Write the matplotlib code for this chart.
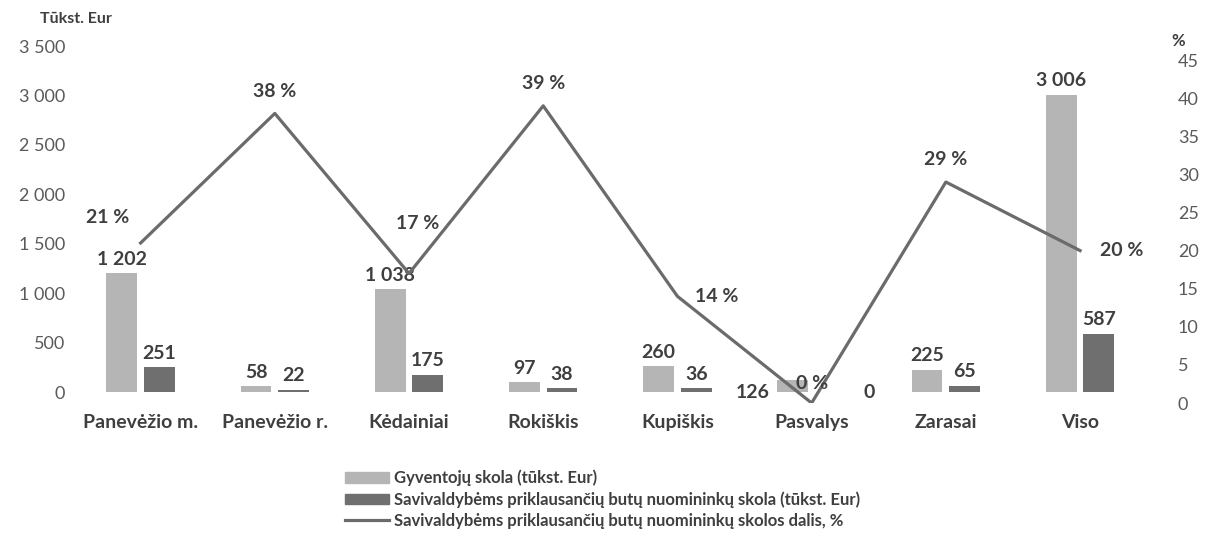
import numpy as np
import matplotlib
matplotlib.use("Agg")
import matplotlib.pyplot as plt
from matplotlib.lines import Line2D
from matplotlib.patches import Patch

categories = ['Panevėžio m.', 'Panevėžio r.', 'Kėdainiai', 'Rokiškis',
              'Kupiškis', 'Pasvalys', 'Zarasai', 'Viso']
resident_debt = [1202, 58, 1038, 97, 260, 126, 225, 3006]
tenant_debt = [251, 22, 175, 38, 36, 0, 65, 587]
tenant_share = [21, 38, 17, 39, 14, 0, 29, 20]

left_ticks = [0, 500, 1000, 1500, 2000, 2500, 3000, 3500]
right_ticks = [0, 5, 10, 15, 20, 25, 30, 35, 40, 45]

LIGHT = '#b5b5b5'
DARK = '#6f6f6f'
LINE = '#6b6b6b'
TXT = '#3f3f3f'
TICK = '#5a5a5a'

plt.rcParams['font.family'] = ['Lato', 'DejaVu Sans']


def fmt(v):
    return f"{v:,}".replace(',', ' ')


fig = plt.figure(figsize=(12.05, 5.42), dpi=100)
# axes spans 46px .. 403px from the top
ax = fig.add_axes([0.061, 1 - 403 / 542, 0.891, 357 / 542])
ax2 = ax.twinx()

x = np.arange(len(categories))
w = 0.23
off = 0.14
ax.bar(x - off, resident_debt, width=w, color=LIGHT, zorder=2)
ax.bar(x + off, tenant_debt, width=w, color=DARK, zorder=2)

ax.set_xlim(-0.5, len(categories) - 0.5)
ax.set_ylim(-111, 3500)
ax2.set_ylim(0, 46.85)
ax.set_yticks(left_ticks)
ax.set_yticklabels([fmt(t) for t in left_ticks])
ax2.set_yticks(right_ticks)
ax.set_xticks(x)
ax.set_xticklabels(categories, fontweight='bold', fontsize=14, color=TXT)

for a in (ax, ax2):
    for s in a.spines.values():
        s.set_visible(False)
    a.tick_params(length=0)
ax.tick_params(axis='y', labelsize=13, labelcolor=TICK, pad=6)
ax.tick_params(axis='x', pad=8)
ax2.tick_params(axis='y', labelsize=13, labelcolor=TICK, pad=22)

# bar value labels
lab = dict(fontsize=14, fontweight='bold', color=TXT, textcoords='offset points')
for i in range(len(categories)):
    if categories[i] == 'Pasvalys':
        ax.annotate(fmt(resident_debt[i]), (x[i] - off, resident_debt[i]),
                    xytext=(-17, -9), ha='right', va='center', **lab)
        ax.annotate(fmt(tenant_debt[i]), (x[i] + off, tenant_debt[i]),
                    xytext=(24, 0), ha='left', va='center', **lab)
        continue
    ax.annotate(fmt(resident_debt[i]), (x[i] - off, resident_debt[i]),
                xytext=(0, 4), ha='center', va='bottom', **lab)
    ax.annotate(fmt(tenant_debt[i]), (x[i] + off, tenant_debt[i]),
                xytext=(0, 4), ha='center', va='bottom', **lab)

# share line
ax2.plot(x, tenant_share, color=LINE, lw=2.3, zorder=3)
pct_offsets = [(-24, 12), (0, 10), (6, 30), (0, 10), (28, 0), (0, 8), (0, 10), (30, 0)]
for i, v in enumerate(tenant_share):
    dx, dy = pct_offsets[i]
    ax2.annotate(f"{v} %", (x[i], v), xytext=(dx, dy),
                 ha='center', va='bottom' if dy > 0 else 'center', **lab)

fig.text(0.033, 0.965, 'Tūkst. Eur', fontsize=11.5, fontweight='bold', color=TXT,
         ha='left', va='center')
fig.text(0.978, 0.925, '%', fontsize=12, fontweight='bold', color=TXT,
         ha='center', va='center')

handles = [Patch(color=LIGHT), Patch(color=DARK), Line2D([], [], color=LINE, lw=2.3)]
labels = ['Gyventojų skola (tūkst. Eur)',
          'Savivaldybėms priklausančių butų nuomininkų skola (tūkst. Eur)',
          'Savivaldybėms priklausančių butų nuomininkų skolos dalis, %']
fig.legend(handles, labels, loc='upper left', bbox_to_anchor=(0.274, 0.161),
           frameon=False, labelspacing=0.3, handlelength=2.6,
           handleheight=0.6, handletextpad=0.3, labelcolor=TXT,
           prop={'weight': 'bold', 'size': 12})

fig.savefig('out.png', dpi=100, facecolor='white')
